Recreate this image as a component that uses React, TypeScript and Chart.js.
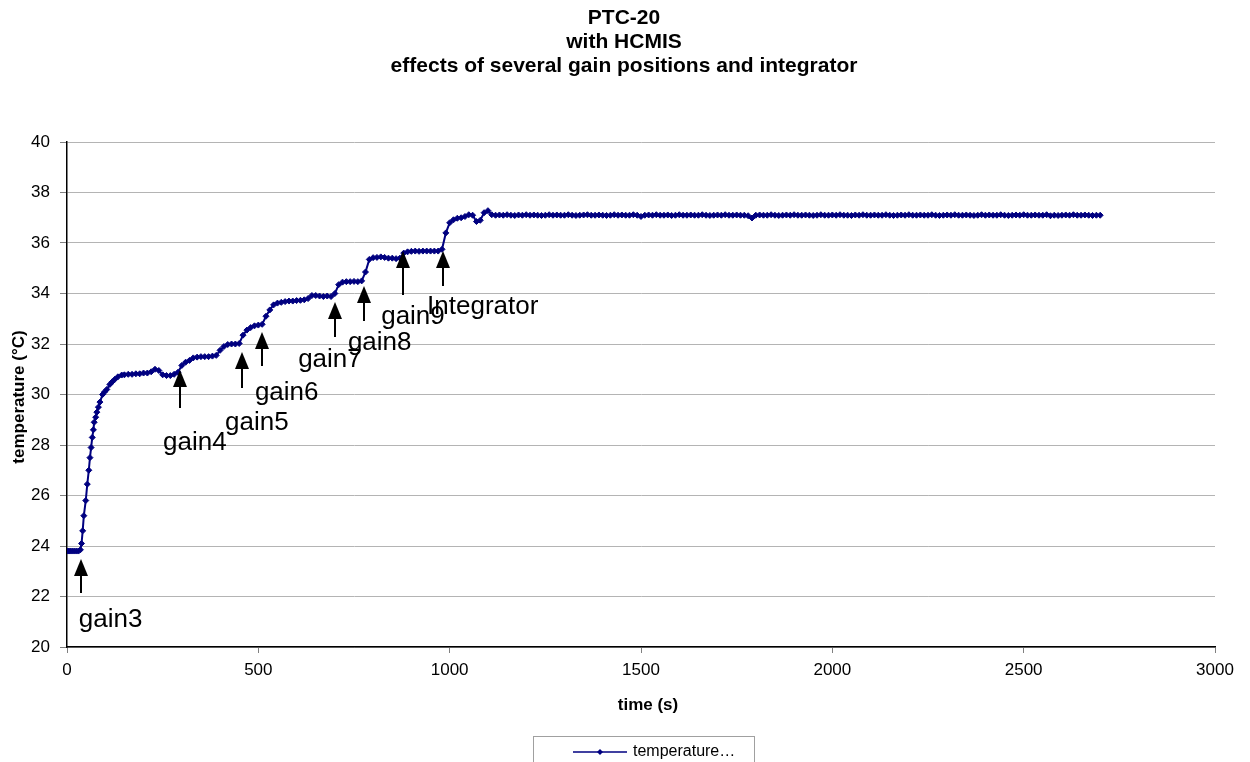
import React, { useEffect, useRef } from "react";
import { Chart, registerables } from "chart.js";

Chart.register(...registerables);

const chartTitle = ["PTC-20", "with HCMIS", "effects of several gain positions and integrator"];
const xAxisTitle = "time (s)";
const yAxisTitle = "temperature (°C)";
const seriesName = "temperature…";

// Start-up and fast rise (time in s, temperature in °C)
const riseTimes = [0, 5, 10, 15, 20, 25, 30, 35, 38, 41, 44, 49, 53, 57, 60, 63, 66, 69, 71, 75, 78, 82, 86, 93, 98, 104, 112, 118, 125, 133, 143];
const riseTemps = [23.8, 23.8, 23.8, 23.8, 23.8, 23.8, 23.8, 23.85, 24.1, 24.6, 25.2, 25.8, 26.45, 27.0, 27.5, 27.9, 28.3, 28.6, 28.9, 29.1, 29.3, 29.5, 29.7, 30.0, 30.1, 30.2, 30.4, 30.5, 30.6, 30.7, 30.77];

// Gain steps, every 10 s from 150 s to 1110 s
const stepStart = 150;
const stepEvery = 10;
const stepTemps = [
  30.78, 30.8, 30.8, 30.82, 30.82, 30.85, 30.85, 30.9, 31.0, 30.95,
  30.78, 30.75, 30.75, 30.8, 30.88, 31.15, 31.28, 31.35, 31.45, 31.48,
  31.5, 31.5, 31.5, 31.52, 31.55, 31.75, 31.9, 31.98, 32.0, 32.0,
  32.02, 32.35, 32.55, 32.65, 32.72, 32.75, 32.78, 33.1, 33.35, 33.55,
  33.62, 33.65, 33.68, 33.7, 33.7, 33.72, 33.73, 33.75, 33.8, 33.92,
  33.92, 33.9, 33.88, 33.9, 33.88, 34.0, 34.35, 34.45, 34.47, 34.47,
  34.48, 34.47, 34.5, 34.85, 35.35, 35.42, 35.43, 35.45, 35.43, 35.4,
  35.4, 35.38, 35.4, 35.6, 35.65, 35.67, 35.68, 35.67, 35.68, 35.68,
  35.68, 35.68, 35.68, 35.75, 36.4, 36.8, 36.92, 36.98, 37.0, 37.05,
  37.12, 37.1, 36.85, 36.9, 37.2, 37.28, 37.12,
];

// Integrator steady state, every 10 s from 1120 s to 2700 s
const steadyStart = 1120;
const steadyEvery = 10;
const steadyTemps = [
  37.1, 37.11, 37.1, 37.12, 37.1, 37.09, 37.11, 37.1, 37.12, 37.1,
  37.11, 37.1, 37.09, 37.1, 37.12, 37.1, 37.11, 37.1, 37.1, 37.12,
  37.1, 37.09, 37.1, 37.11, 37.12, 37.1, 37.1, 37.11, 37.1, 37.09,
  37.1, 37.12, 37.1, 37.11, 37.1, 37.1, 37.12, 37.1, 37.05, 37.1,
  37.11, 37.1, 37.12, 37.1, 37.1, 37.11, 37.09, 37.1, 37.12, 37.1,
  37.1, 37.11, 37.1, 37.1, 37.12, 37.1, 37.09, 37.1, 37.11, 37.1,
  37.12, 37.1, 37.1, 37.11, 37.1, 37.1, 37.08, 36.99, 37.1, 37.11,
  37.1, 37.1, 37.12, 37.1, 37.09, 37.1, 37.11, 37.1, 37.12, 37.1,
  37.1, 37.11, 37.1, 37.09, 37.1, 37.12, 37.1, 37.1, 37.11, 37.1,
  37.12, 37.1, 37.1, 37.09, 37.11, 37.1, 37.12, 37.1, 37.1, 37.11,
  37.1, 37.1, 37.12, 37.1, 37.09, 37.1, 37.11, 37.1, 37.12, 37.1,
  37.1, 37.11, 37.1, 37.1, 37.12, 37.1, 37.09, 37.1, 37.11, 37.1,
  37.12, 37.1, 37.1, 37.11, 37.1, 37.09, 37.1, 37.12, 37.1, 37.11,
  37.1, 37.1, 37.12, 37.1, 37.09, 37.1, 37.11, 37.1, 37.12, 37.1,
  37.1, 37.11, 37.1, 37.1, 37.12, 37.08, 37.1, 37.09, 37.1, 37.11,
  37.1, 37.12, 37.1, 37.1, 37.11, 37.1, 37.09, 37.1, 37.1,
];

// Arrow annotations: time of arrow, tip and tail temperature, label anchor (left, middle)
const noteLabels = ["gain3", "gain4", "gain5", "gain6", "gain7", "gain8", "gain9", "Integrator"];
const noteTimes = [37, 295, 457, 509, 700, 776, 878, 983];
const noteTipTemps = [23.49, 30.97, 31.68, 32.48, 33.66, 34.3, 35.68, 35.68];
const noteTailTemps = [22.14, 29.47, 30.26, 31.13, 32.28, 32.91, 33.94, 34.3];
const noteLabelTimes = [31, 251, 413, 491, 604, 734, 821, 941];
const noteLabelTemps = [21.07, 28.08, 28.87, 30.06, 31.37, 32.04, 33.07, 33.47];

const xMin = 0;
const xMax = 3000;
const xStep = 500;
const yMin = 20;
const yMax = 40;
const yStep = 2;

const FONT = "'Liberation Sans', Arial, sans-serif";
const NAVY = "#000080";

function buildPoints() {
  const pts: { x: number; y: number }[] = [];
  riseTimes.forEach((t, i) => pts.push({ x: t, y: riseTemps[i] }));
  stepTemps.forEach((v, i) => pts.push({ x: stepStart + i * stepEvery, y: v }));
  steadyTemps.forEach((v, i) => pts.push({ x: steadyStart + i * steadyEvery, y: v }));
  return pts;
}

const decorPlugin = {
  id: "decor",
  afterDraw(chart: any) {
    const ctx = chart.ctx as CanvasRenderingContext2D;
    const xs = chart.scales.x;
    const ys = chart.scales.y;
    ctx.save();

    // Title
    ctx.fillStyle = "#000";
    ctx.font = `bold 21px ${FONT}`;
    ctx.textAlign = "center";
    ctx.textBaseline = "middle";
    chartTitle.forEach((line, i) => ctx.fillText(line, 624, 18 + i * 24));

    // Axis titles
    ctx.font = `bold 17px ${FONT}`;
    ctx.fillText(xAxisTitle, 648, 705);
    ctx.save();
    ctx.translate(19, 397);
    ctx.rotate(-Math.PI / 2);
    ctx.fillText(yAxisTitle, 0, 0);
    ctx.restore();

    // Arrows and labels
    noteLabels.forEach((label, i) => {
      const x = Math.round(xs.getPixelForValue(noteTimes[i]));
      const tip = ys.getPixelForValue(noteTipTemps[i]);
      const tail = ys.getPixelForValue(noteTailTemps[i]);
      ctx.strokeStyle = "#000";
      ctx.lineWidth = 2;
      ctx.beginPath();
      ctx.moveTo(x, tail);
      ctx.lineTo(x, tip + 12);
      ctx.stroke();
      ctx.fillStyle = "#000";
      ctx.beginPath();
      ctx.moveTo(x, tip);
      ctx.lineTo(x - 7, tip + 17);
      ctx.lineTo(x + 7, tip + 17);
      ctx.closePath();
      ctx.fill();

      ctx.font = `26px ${FONT}`;
      ctx.textAlign = "left";
      ctx.textBaseline = "middle";
      ctx.fillText(label, xs.getPixelForValue(noteLabelTimes[i]), ys.getPixelForValue(noteLabelTemps[i]));
    });

    // Legend
    ctx.strokeStyle = "#a0a0a0";
    ctx.lineWidth = 1;
    ctx.strokeRect(533.5, 736.5, 221, 40);
    ctx.strokeStyle = NAVY;
    ctx.lineWidth = 1.5;
    ctx.beginPath();
    ctx.moveTo(573, 752);
    ctx.lineTo(627, 752);
    ctx.stroke();
    ctx.fillStyle = NAVY;
    ctx.beginPath();
    ctx.moveTo(600, 749);
    ctx.lineTo(603, 752);
    ctx.lineTo(600, 755);
    ctx.lineTo(597, 752);
    ctx.closePath();
    ctx.fill();
    ctx.fillStyle = "#000";
    ctx.font = `16px ${FONT}`;
    ctx.textAlign = "left";
    ctx.textBaseline = "middle";
    ctx.fillText(seriesName, 633, 752);

    ctx.restore();
  },
};

export default function App() {
  const canvasRef = useRef<HTMLCanvasElement | null>(null);

  useEffect(() => {
    if (!canvasRef.current) return;
    Chart.defaults.font.family = FONT;
    const chart = new Chart(canvasRef.current, {
      type: "line",
      data: {
        datasets: [
          {
            label: seriesName,
            data: buildPoints(),
            borderColor: NAVY,
            backgroundColor: NAVY,
            borderWidth: 2,
            pointStyle: "rectRot",
            pointRadius: 3,
            pointBackgroundColor: NAVY,
            pointBorderColor: NAVY,
            pointBorderWidth: 1,
            tension: 0,
            fill: false,
          },
        ],
      },
      options: {
        animation: false,
        responsive: false,
        maintainAspectRatio: false,
        layout: { padding: { top: 142, right: 35, left: 0, bottom: 0 } },
        plugins: {
          legend: { display: false },
          title: { display: false },
          tooltip: { enabled: false },
        },
        scales: {
          x: {
            type: "linear",
            min: xMin,
            max: xMax,
            afterFit: (s: any) => {
              s.height = 115;
            },
            ticks: {
              stepSize: xStep,
              color: "#000",
              font: { size: 17 },
              padding: 7,
              maxRotation: 0,
              callback: (v: any) => String(v),
            },
            grid: { drawOnChartArea: false, drawTicks: true, tickLength: 6, tickColor: "#808080" },
            border: { color: "#000", width: 1.5 },
          },
          y: {
            type: "linear",
            min: yMin,
            max: yMax,
            afterFit: (s: any) => {
              s.width = 67;
            },
            ticks: { stepSize: yStep, color: "#000", font: { size: 17 }, padding: 10, callback: (v: any) => String(v) },
            grid: { color: "#b4b4b4", lineWidth: 1, tickLength: 7, tickColor: "#808080" },
            border: { color: "#000", width: 1.5 },
          },
        },
      },
      plugins: [decorPlugin],
    });
    return () => chart.destroy();
  }, []);

  return (
    <div style={{ position: "fixed", left: 0, top: 0, width: 1250, height: 762, background: "#fff" }}>
      <canvas ref={canvasRef} width={1250} height={762} />
    </div>
  );
}
